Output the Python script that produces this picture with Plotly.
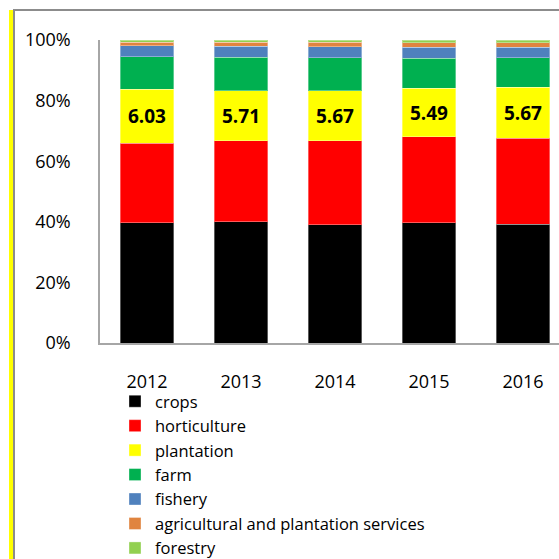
import plotly.graph_objects as go

years = ["2012", "2013", "2014", "2015", "2016"]
crops = [39.7, 40.0, 39.1, 39.7, 39.2]
horticulture = [26.3, 26.8, 27.7, 28.3, 28.3]
plantation = [17.7, 16.4, 16.4, 16.0, 16.9]
farm = [10.7, 11.1, 10.9, 9.9, 9.7]
fishery = [3.7, 3.6, 3.6, 3.7, 3.5]
services = [1.1, 1.3, 1.5, 1.5, 1.5]
forestry = [0.8, 0.8, 0.8, 0.9, 0.9]
plantation_labels = ["6.03", "5.71", "5.67", "5.49", "5.67"]
y_tickvals = [0, 20, 40, 60, 80, 100]
y_ticktext = ["0%", "20%", "40%", "60%", "80%", "100%"]

series = [
    ("crops", crops, "#000000"),
    ("horticulture", horticulture, "#FF0000"),
    ("plantation", plantation, "#FFFF00"),
    ("farm", farm, "#00B050"),
    ("fishery", fishery, "#4F81BD"),
    ("agricultural and plantation services", services, "#E0843F"),
    ("forestry", forestry, "#92D050"),
]

FONT = "Open Sans"
W, H = 559, 559
L, R, T, B = 100, 0, 40, 216

fig = go.Figure()
for name, vals, col in series:
    kw = {}
    if name == "plantation":
        kw = dict(text=plantation_labels, textposition="inside",
                  insidetextanchor="middle", textangle=0,
                  textfont=dict(family=FONT, size=19, color="#000000", weight="bold"))
    fig.add_trace(go.Bar(
        x=years, y=vals, name=name,
        marker=dict(color=col, line=dict(color="rgba(255,255,255,0.35)", width=1)),
        **kw))

pw = W - L - R
ph = H - T - B


def px(x):
    return (x - L) / pw


def py(y):
    return (H - B - y) / ph


gray = "#8C8C8C"
fig.update_layout(
    width=W, height=H,
    margin=dict(l=L, r=R, t=T, b=B, pad=0, autoexpand=False),
    barmode="stack", bargap=0.426,
    plot_bgcolor="white", paper_bgcolor="white",
    font=dict(family=FONT, size=18, color="#000000"),
    showlegend=True,
    legend=dict(orientation="v", traceorder="normal", x=px(115), y=py(384),
                xanchor="left", yanchor="top", font=dict(family=FONT, size=16.5),
                bgcolor="rgba(0,0,0,0)", borderwidth=0),
    xaxis=dict(range=[-0.5, 4.383], showline=True, linecolor="#A6A6A6", linewidth=1.5,
               ticks="", showgrid=False, ticklabelstandoff=22, zeroline=False),
    yaxis=dict(range=[0, 100], showline=True, linecolor="#A6A6A6", linewidth=1.5,
               ticks="", showgrid=False, tickmode="array", tickvals=y_tickvals,
               ticktext=y_ticktext, ticklabelstandoff=24, zeroline=False),
    shapes=[
        dict(type="rect", xref="paper", yref="paper", x0=px(9), x1=px(13),
             y0=py(10), y1=py(600), fillcolor="#FFFF00", line=dict(width=0), layer="above"),
        dict(type="line", xref="paper", yref="paper", x0=px(14), x1=px(14),
             y0=py(10), y1=py(600), line=dict(color=gray, width=2)),
        dict(type="line", xref="paper", yref="paper", x0=px(13), x1=px(600),
             y0=py(10), y1=py(10), line=dict(color=gray, width=2)),
    ],
)

fig.write_html("out.html")
